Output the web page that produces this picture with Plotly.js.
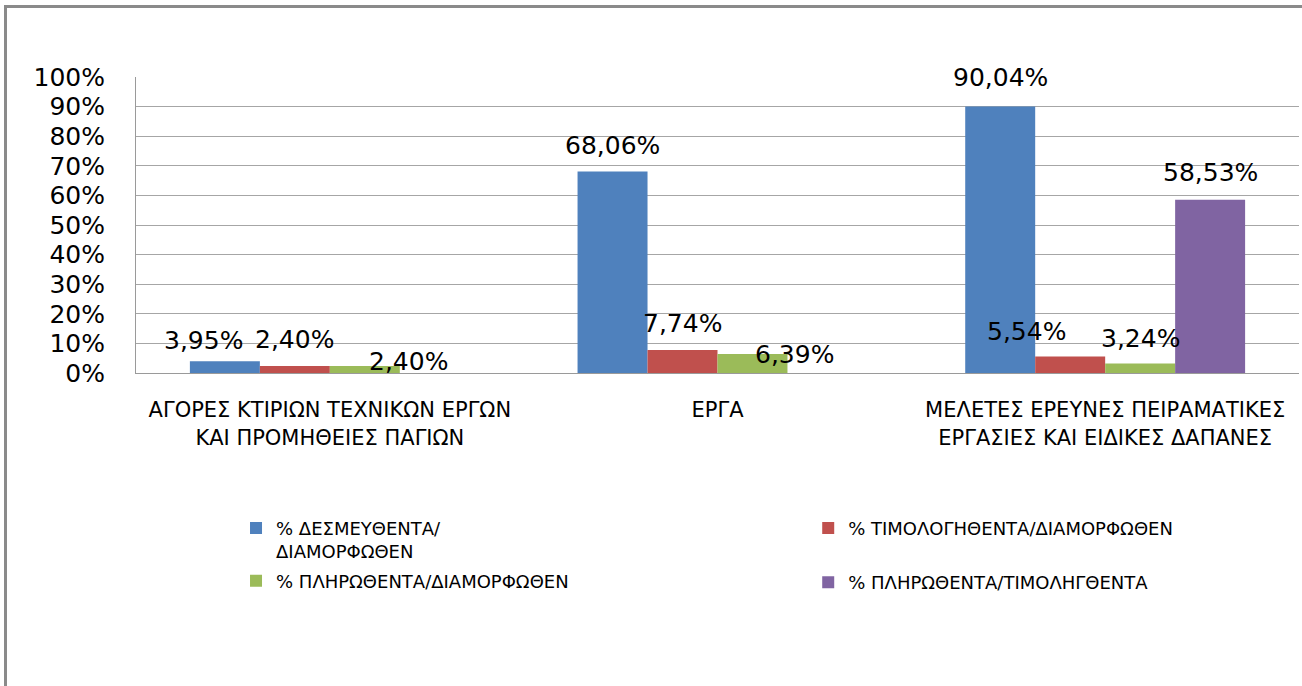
<!DOCTYPE html>
<html>
<head>
<meta charset="utf-8">
<script src="https://cdn.plot.ly/plotly-3.0.1.min.js"></script>
<style>
  html, body { margin: 0; padding: 0; background: #fff; }
  #chart { width: 1302px; height: 686px; }
  #frame { position: absolute; left: 4px; top: 5px; width: 1310px; height: 700px;
           border-left: 3px solid #8a8a8a; border-top: 3px solid #8a8a8a; pointer-events: none; }
</style>
</head>
<body>
<div id="chart"></div>
<div id="frame"></div>
<script>
// ---- data ----
const categories = [
  "ΑΓΟΡΕΣ ΚΤΙΡΙΩΝ ΤΕΧΝΙΚΩΝ ΕΡΓΩΝ<br>ΚΑΙ ΠΡΟΜΗΘΕΙΕΣ ΠΑΓΙΩΝ",
  "ΕΡΓΑ",
  "ΜΕΛΕΤΕΣ ΕΡΕΥΝΕΣ ΠΕΙΡΑΜΑΤΙΚΕΣ<br>ΕΡΓΑΣΙΕΣ ΚΑΙ ΕΙΔΙΚΕΣ ΔΑΠΑΝΕΣ"
];
const seriesNames = [
  "% ΔΕΣΜΕΥΘΕΝΤΑ/<br>ΔΙΑΜΟΡΦΩΘΕΝ",
  "% ΤΙΜΟΛΟΓΗΘΕΝΤΑ/ΔΙΑΜΟΡΦΩΘΕΝ",
  "% ΠΛΗΡΩΘΕΝΤΑ/ΔΙΑΜΟΡΦΩΘΕΝ",
  "% ΠΛΗΡΩΘΕΝΤΑ/ΤΙΜΟΛΗΓΘΕΝΤΑ"
];
const desmeythenta = [3.95, 68.06, 90.04];
const timologithenta = [2.40, 7.74, 5.54];
const plirothentaDiam = [2.40, 6.39, 3.24];
const plirothentaTimol = [null, null, 58.53];
const yTicks = [0, 10, 20, 30, 40, 50, 60, 70, 80, 90, 100];
const yTickLabels = ["0%", "10%", "20%", "30%", "40%", "50%", "60%", "70%", "80%", "90%", "100%"];

// ---- style ----
const colors = ["#4F81BD", "#C0504D", "#9BBB59", "#8064A2"];
const FONT = "DejaVu Sans, Verdana, sans-serif";
// label nudges in px [series][category]: [dx, dy]
const labelNudge = [
  [[-21, -21], [0, -26], [0, -29]],
  [[0, -26], [0, -27], [-44, -25]],
  [[44, -4], [42, 0], [0, -25]],
  [[0, -26], [0, -26], [0, -27]]
];
// legend column of each series (2 x 2 legend: row-major)
const legendOf = ["legend", "legend2", "legend", "legend2"];

const allSeries = [desmeythenta, timologithenta, plirothentaDiam, plirothentaTimol];

const W = 1302, H = 686;
const margin = {l: 136, r: 3, t: 77, b: 313, pad: 0};
const bargap = 0.278;
const plotW = W - margin.l - margin.r;
const catW = plotW / categories.length;
const barW = catW * (1 - bargap) / allSeries.length;

const traces = allSeries.map((vals, i) => ({
  type: "bar",
  name: seriesNames[i],
  x: categories,
  y: vals,
  marker: {color: colors[i]},
  legend: legendOf[i],
  legendgroup: "g" + i,
  hoverinfo: "none"
}));

const annotations = [];
allSeries.forEach((vals, i) => {
  vals.forEach((v, j) => {
    if (v === null) return;
    annotations.push({
      x: categories[j], y: v, xref: "x", yref: "y",
      text: v.toFixed(2).replace(".", ",") + "%",
      showarrow: false,
      xanchor: "center", yanchor: "middle",
      xshift: (i - (allSeries.length - 1) / 2) * barW + labelNudge[i][j][0],
      yshift: -labelNudge[i][j][1],
      font: {family: FONT, size: 25, color: "#000"}
    });
  });
});

const legendFont = {family: FONT, size: 18, color: "#000"};

const layout = {
  width: W, height: H,
  margin: margin,
  paper_bgcolor: "#fff",
  plot_bgcolor: "#fff",
  barmode: "group",
  bargap: bargap,
  bargroupgap: 0,
  showlegend: true,
  legend: {
    orientation: "v",
    x: 0.086, xanchor: "left",
    y: -0.462, yanchor: "top",
    valign: "top",
    font: legendFont,
    traceorder: "grouped",
    tracegroupgap: 3
  },
  legend2: {
    orientation: "v",
    x: 0.578, xanchor: "left",
    y: -0.462, yanchor: "top",
    valign: "top",
    font: legendFont,
    traceorder: "grouped",
    tracegroupgap: 28
  },
  xaxis: {
    type: "category",
    showgrid: false,
    showline: true, linecolor: "#9a9a9a", linewidth: 1,
    ticks: "",
    ticklabelstandoff: 18,
    tickfont: {family: FONT, size: 21, color: "#000"},
    fixedrange: true
  },
  yaxis: {
    range: [0, 100],
    tickvals: yTicks,
    ticktext: yTickLabels,
    showgrid: true, gridcolor: "#a6a6a6", gridwidth: 1,
    showline: true, linecolor: "#9a9a9a", linewidth: 1,
    zeroline: false,
    ticks: "",
    ticklabelstandoff: 25,
    tickfont: {family: FONT, size: 25, color: "#000"},
    fixedrange: true
  },
  annotations: annotations
};

Plotly.newPlot("chart", traces, layout, {displayModeBar: false, staticPlot: true});
</script>
</body>
</html>
